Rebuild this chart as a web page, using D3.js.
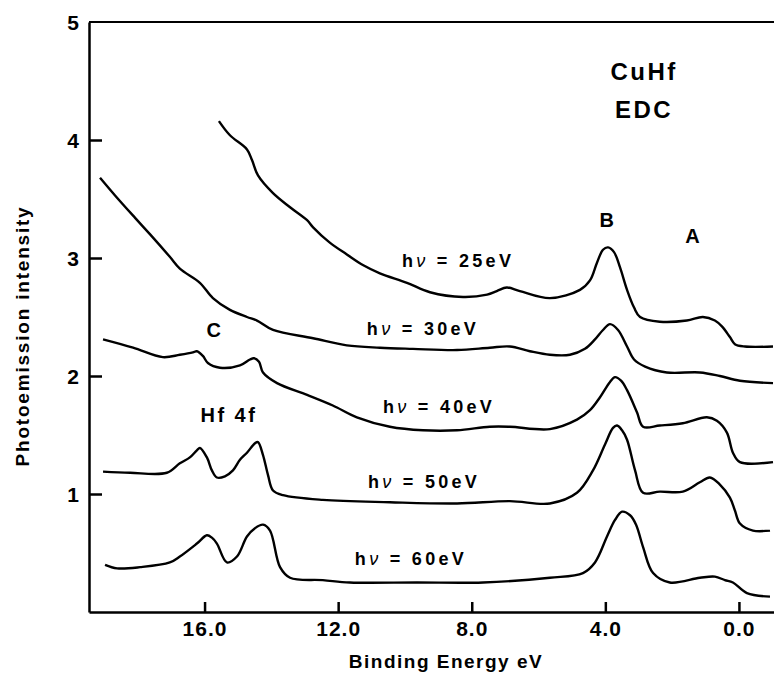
<!DOCTYPE html>
<html>
<head>
<meta charset="utf-8">
<script src="https://cdn.jsdelivr.net/npm/d3@7"></script>
<style>
  body { margin: 0; background: #fff; }
  svg text { font-family: "Liberation Sans", Arial, Helvetica, sans-serif; font-weight: bold; fill: #000; }
</style>
</head>
<body>
<svg id="chart" width="774" height="673"></svg>
<script>
// EDC spectra, [binding energy eV, intensity]
var edc25 = [[15.57,4.16],[15.24,4.04],[14.73,3.92],[14.58,3.83],[14.40,3.70],[13.95,3.55],[13.44,3.43],[12.93,3.32],[12.75,3.26],[12.25,3.13],[11.74,3.03],[11.26,2.94],[10.75,2.87],[9.94,2.79],[9.25,2.71],[8.26,2.67],[7.54,2.69],[7.25,2.72],[6.95,2.75],[6.56,2.72],[5.66,2.66],[4.76,2.73],[4.46,2.81],[4.25,2.96],[4.07,3.07],[3.92,3.09],[3.74,3.05],[3.56,2.92],[3.35,2.73],[3.14,2.58],[2.96,2.50],[2.37,2.46],[1.56,2.47],[1.08,2.50],[0.72,2.47],[0.51,2.42],[0.27,2.33],[0.12,2.27],[-0.18,2.25],[-1.02,2.25]];
var edc30 = [[19.13,3.68],[18.68,3.53],[18.08,3.34],[17.63,3.20],[17.04,3.01],[16.74,2.91],[16.14,2.79],[15.75,2.66],[15.24,2.56],[14.73,2.50],[14.43,2.47],[13.95,2.39],[12.75,2.32],[11.74,2.26],[10.75,2.24],[9.76,2.23],[8.44,2.22],[7.46,2.24],[6.86,2.25],[6.26,2.21],[5.66,2.18],[5.06,2.18],[4.61,2.23],[4.31,2.31],[4.07,2.39],[3.86,2.44],[3.62,2.39],[3.35,2.25],[3.14,2.14],[2.81,2.08],[2.16,2.03],[1.17,2.03],[0.57,2.00],[-0.03,1.96],[-1.02,1.94]];
var edc40 = [[19.04,2.31],[18.14,2.24],[17.25,2.16],[16.74,2.18],[16.35,2.20],[16.23,2.21],[16.05,2.17],[15.90,2.11],[15.54,2.07],[14.94,2.09],[14.64,2.14],[14.52,2.15],[14.37,2.12],[14.25,2.03],[13.83,1.94],[12.93,1.84],[12.16,1.75],[11.44,1.65],[10.45,1.57],[9.46,1.54],[8.44,1.54],[7.46,1.57],[6.86,1.57],[5.66,1.55],[4.85,1.63],[4.46,1.71],[4.16,1.82],[3.86,1.95],[3.71,1.99],[3.53,1.96],[3.35,1.88],[3.05,1.69],[2.87,1.57],[2.37,1.58],[1.68,1.60],[0.96,1.65],[0.66,1.62],[0.36,1.52],[0.18,1.35],[-0.03,1.27],[-1.02,1.27]];
var edc50 = [[19.04,1.19],[18.23,1.18],[17.13,1.18],[16.74,1.26],[16.44,1.31],[16.23,1.37],[16.14,1.39],[15.93,1.31],[15.78,1.20],[15.63,1.14],[15.39,1.15],[15.15,1.20],[14.94,1.29],[14.73,1.35],[14.49,1.43],[14.40,1.44],[14.25,1.33],[14.10,1.16],[13.95,1.03],[13.65,0.99],[12.46,0.95],[10.45,0.93],[8.44,0.92],[6.86,0.94],[5.66,0.92],[4.85,1.01],[4.37,1.20],[4.01,1.42],[3.77,1.56],[3.65,1.58],[3.50,1.54],[3.35,1.46],[3.11,1.20],[2.87,1.01],[2.37,1.02],[1.68,1.02],[1.17,1.10],[0.87,1.14],[0.57,1.08],[0.27,0.97],[0.12,0.86],[-0.03,0.75],[-0.42,0.69],[-0.93,0.69]];
var edc60 = [[18.98,0.40],[18.62,0.37],[17.93,0.38],[17.04,0.42],[16.74,0.47],[16.23,0.58],[15.93,0.65],[15.78,0.63],[15.63,0.58],[15.33,0.42],[15.03,0.47],[14.73,0.64],[14.49,0.71],[14.25,0.74],[14.04,0.69],[13.74,0.38],[13.44,0.29],[12.46,0.27],[11.65,0.25],[9.64,0.25],[7.66,0.25],[5.66,0.29],[4.67,0.33],[4.31,0.42],[3.95,0.64],[3.71,0.78],[3.50,0.85],[3.26,0.82],[3.08,0.74],[2.87,0.55],[2.57,0.33],[2.07,0.25],[1.17,0.29],[0.72,0.30],[0.42,0.27],[0.18,0.25],[-0.24,0.16],[-0.93,0.13]];

var photonEnergies = ["25", "30", "40", "50", "60"];
// where each hv label sits, [energy, intensity]
var hvAnchors = [[10.09,2.92],[11.14,2.35],[10.66,1.69],[11.11,1.05],[11.50,0.40]];

var xTicks = [16, 12, 8, 4, 0];
var yTicks = [1, 2, 3, 4, 5];

// peak labels, [text, energy, intensity]
var peakLabels = [["B",3.92,3.26],["A",1.35,3.13],["C",15.69,2.33],["Hf 4f",15.27,1.61]];
var titleLines = [["CuHf",2.84,4.51],["EDC",2.84,4.19]];

var svg = d3.select("#chart");

var x = d3.scaleLinear().domain([19.46, -1.05]).range([89, 774]);
var y = d3.scaleLinear().domain([0, 5]).range([612, 22]);

// frame: top border
svg.append("line")
    .attr("x1", x.range()[0]).attr("x2", x.range()[1])
    .attr("y1", y(5)).attr("y2", y(5))
    .attr("stroke", "#000").attr("stroke-width", 2);

// y axis
var yAxis = svg.append("g")
    .attr("transform", "translate(" + x.range()[0] + ",0)")
    .call(d3.axisLeft(y).tickValues(yTicks).tickSize(-13).tickSizeOuter(0).tickPadding(10).tickFormat(d3.format("d")));
yAxis.select(".domain").attr("stroke-width", 2.5);
yAxis.selectAll(".tick line").attr("stroke-width", 2.5);
yAxis.selectAll(".tick text").style("font-size", "21px").attr("dy", "0.36em");
yAxis.selectAll(".tick").filter(function(d) { return d === 5; }).select("line").remove();

// x axis
var xAxis = svg.append("g")
    .attr("transform", "translate(0," + y(0) + ")")
    .call(d3.axisBottom(x).tickValues(xTicks).tickSize(-10).tickSizeOuter(0).tickPadding(9).tickFormat(d3.format(".1f")));
xAxis.select(".domain").attr("stroke-width", 2.5);
xAxis.selectAll(".tick line").attr("stroke-width", 2.5);
xAxis.selectAll(".tick text").style("font-size", "21px").style("letter-spacing", "1px");

// axis titles
svg.append("text")
    .attr("x", 446).attr("y", 668)
    .attr("text-anchor", "middle")
    .style("font-size", "19px").style("letter-spacing", "1.5px")
    .text("Binding Energy eV");

svg.append("text")
    .attr("transform", "translate(29,336) rotate(-90)")
    .attr("text-anchor", "middle")
    .style("font-size", "19px").style("letter-spacing", "1.8px")
    .text("Photoemission intensity");

// spectra
var line = d3.line()
    .x(function(d) { return x(d[0]); })
    .y(function(d) { return y(d[1]); })
    .curve(d3.curveCatmullRom.alpha(0.5));

var spectra = [edc25, edc30, edc40, edc50, edc60];
svg.selectAll("path.edc")
    .data(spectra)
  .enter().append("path")
    .attr("class", "edc")
    .attr("d", line)
    .attr("fill", "none")
    .attr("stroke", "#000")
    .attr("stroke-width", 2.4)
    .attr("stroke-linejoin", "round");

// hv labels
photonEnergies.forEach(function(e, i) {
  var t = svg.append("text")
      .attr("x", x(hvAnchors[i][0]))
      .attr("y", y(hvAnchors[i][1]))
      .style("font-size", "18px")
      .style("letter-spacing", "3.3px");
  t.append("tspan").text("h");
  t.append("tspan").style("font-style", "italic").style("font-weight", "normal").text("\u03bd");
  t.append("tspan").text(" = " + e + "eV");
});

// peak labels and title
peakLabels.forEach(function(p) {
  svg.append("text")
      .attr("x", x(p[1])).attr("y", y(p[2]))
      .attr("text-anchor", "middle")
      .style("font-size", "20px").style("letter-spacing", "2.5px")
      .text(p[0]);
});
titleLines.forEach(function(p) {
  svg.append("text")
      .attr("x", x(p[1])).attr("y", y(p[2]))
      .attr("text-anchor", "middle")
      .style("font-size", "24px").style("letter-spacing", "2.5px")
      .text(p[0]);
});
</script>
</body>
</html>
